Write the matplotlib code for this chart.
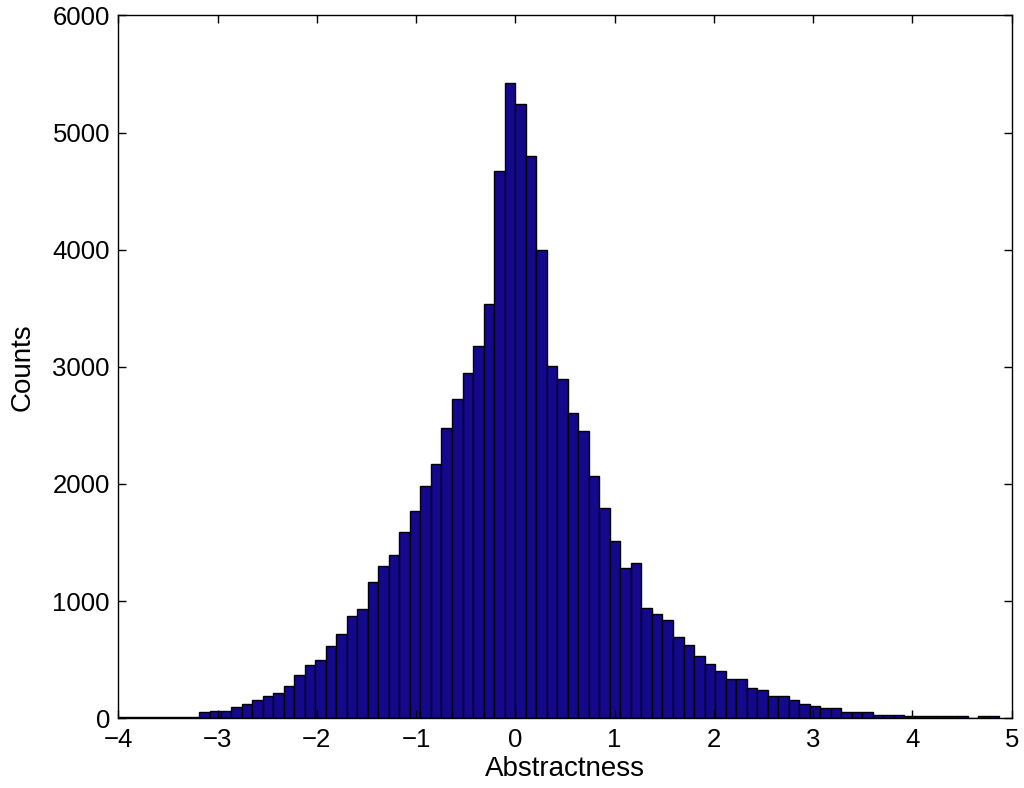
import matplotlib
matplotlib.use('Agg')
import matplotlib.pyplot as plt
import numpy as np

# histogram bins (84 equal bins)
bin_start = -4.03
bin_width = 0.106

counts = [
    12, 12, 12, 12, 12, 12, 12, 12,
    52, 64, 63, 98, 120, 155, 191, 214, 279, 370,
    457, 500, 613, 722, 869, 935, 1160, 1303, 1390, 1590,
    1769, 1980, 2168, 2479, 2726, 2949, 3174, 3540, 4670, 5420,
    5242, 4797, 3997, 3011, 2897, 2607, 2450, 2071, 1795, 1515,
    1282, 1327, 937, 889, 836, 690, 623, 533, 466, 400,
    334, 333, 255, 242, 188, 188, 155, 121, 102, 84,
    84, 53, 53, 53, 31, 31, 31, 20, 20, 20,
    20, 20, 20, 0, 20, 20,
]

x_ticks = [-4, -3, -2, -1, 0, 1, 2, 3, 4, 5]
y_ticks = [0, 1000, 2000, 3000, 4000, 5000, 6000]

plt.rcParams['font.family'] = ['Liberation Sans', 'DejaVu Sans']

fig = plt.figure(figsize=(10.24, 7.88), dpi=100)
ax = fig.add_axes([0.1155, 0.0885, 0.8725, 0.892])

edges = bin_start + bin_width * np.arange(len(counts) + 1)
ax.bar(edges[:-1], counts, width=bin_width, align='edge',
       color='#14088c', edgecolor='black', linewidth=1.0)

ax.set_xlim(-4, 5)
ax.set_ylim(0, 6000)
ax.set_xticks(x_ticks)
ax.set_yticks(y_ticks)
ax.tick_params(direction='in', length=6, width=1, top=True, right=True,
               labelsize=18.5)
ax.tick_params(axis='x', pad=7)
ax.tick_params(axis='y', pad=6)
for s in ax.spines.values():
    s.set_linewidth(1.0)

ax.set_xlabel('Abstractness', fontsize=20, labelpad=3)
ax.set_ylabel('Counts', fontsize=20, labelpad=12)

fig.savefig('out.png', dpi=100)
